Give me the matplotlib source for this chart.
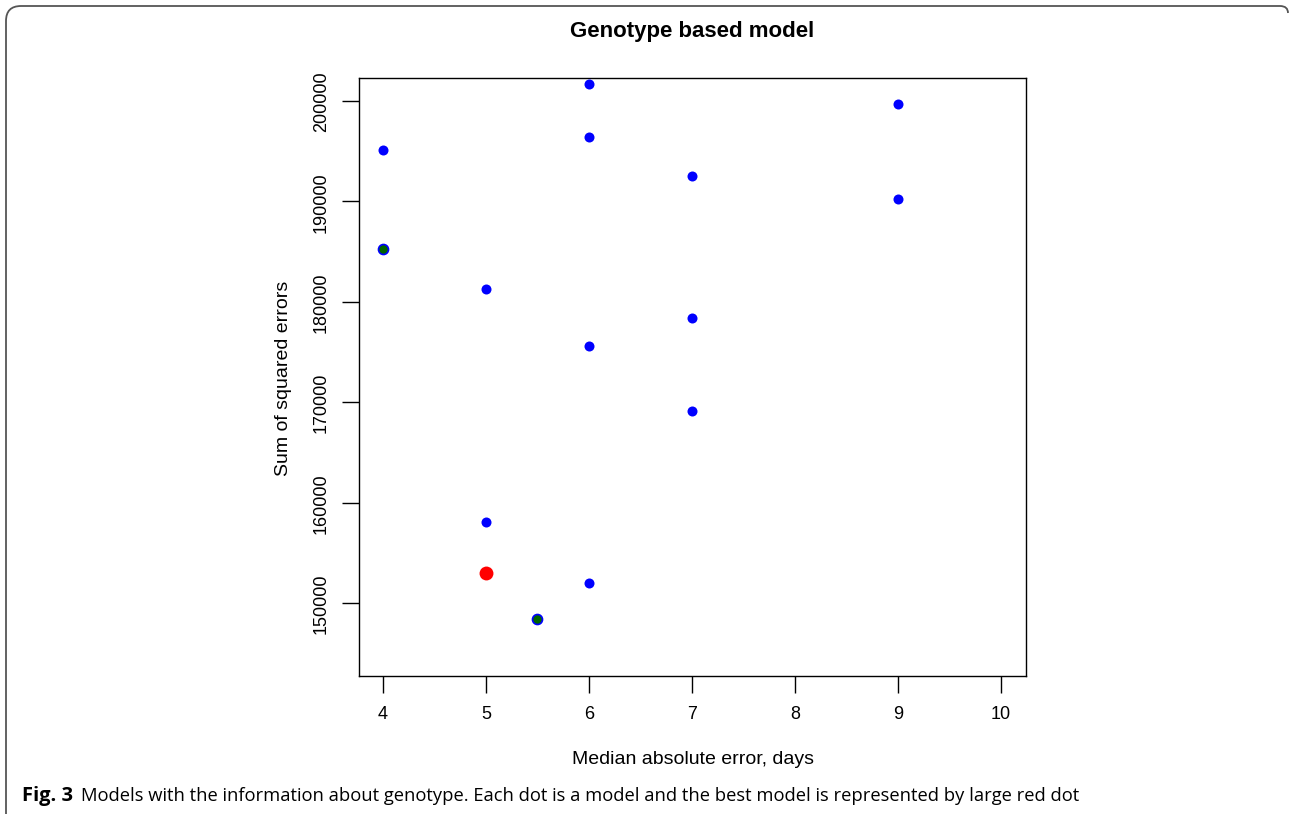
import matplotlib.pyplot as plt
from matplotlib.path import Path
from matplotlib.patches import PathPatch

# blue dots: all models
mae = [4, 5, 5, 6, 6, 6, 6, 7, 7, 7, 9, 9]
sse = [195100, 181300, 158100, 201700, 196400, 175600, 152000,
       192500, 178400, 169100, 199700, 190200]

# green dots (drawn over blue)
mae_green = [4, 5.5]
sse_green = [185250, 148400]

# best model
mae_best = [5]
sse_best = [153000]

plt.rcParams['font.family'] = ['Liberation Sans', 'DejaVu Sans']

fig = plt.figure(figsize=(12.9, 8.2), dpi=100)
ax = fig.add_axes([359/1290, 1-677/820, (1026-359)/1290, (677-79)/820])

ax.scatter(mae, sse, s=52, color='blue', linewidths=0, zorder=3)
ax.scatter(mae_green, sse_green, s=52, color='#006400', edgecolors='blue',
           linewidths=1.2, zorder=4)
ax.scatter(mae_best, sse_best, s=100, color='red', linewidths=0, zorder=5)

ax.set_xlim(3.767, 10.243)
ax.set_ylim(142730, 202290)
ax.set_xticks(range(4, 11))
ax.set_yticks(range(150000, 200001, 10000))
ax.tick_params(direction='out', length=12, width=1, labelsize=13, pad=9)
for lab in ax.get_yticklabels():
    lab.set_rotation(90)
    lab.set_va('center')
for sp in ax.spines.values():
    sp.set_linewidth(1)

ax.set_xlabel('Median absolute error, days', fontsize=14, labelpad=20)
ax.set_ylabel('Sum of squared errors', fontsize=14, labelpad=15)
fig.text(692/1290, 1-32/820, 'Genotype based model', ha='center', va='center',
         fontsize=16, fontweight='bold')

# caption
fig.text(22/1290, 1-796/820, 'Fig. 3', fontsize=14.5, fontweight='bold',
         family=['Open Sans'], va='center')
fig.text(81/1290, 1-796/820,
         'Models with the information about genotype. Each dot is a model and the best model is represented by large red dot',
         fontsize=13.2, family=['Open Sans'], va='center')

# frame: left and top edges with rounded corners
W, H = 1290, 820
pts = [(6/W, 1-815/H), (6/W, 1-22/H), (6/W, 1-7/H), (21/W, 1-7/H),
       (1280/W, 1-7/H), (1288/W, 1-7/H), (1288/W, 1-14/H)]
codes = [Path.MOVETO, Path.LINETO, Path.CURVE3, Path.CURVE3,
         Path.LINETO, Path.CURVE3, Path.CURVE3]
fig.patches.append(PathPatch(Path(pts, codes), transform=fig.transFigure,
                             fill=False, edgecolor='#555555', linewidth=1.3))

fig.savefig('out.png', dpi=100)
